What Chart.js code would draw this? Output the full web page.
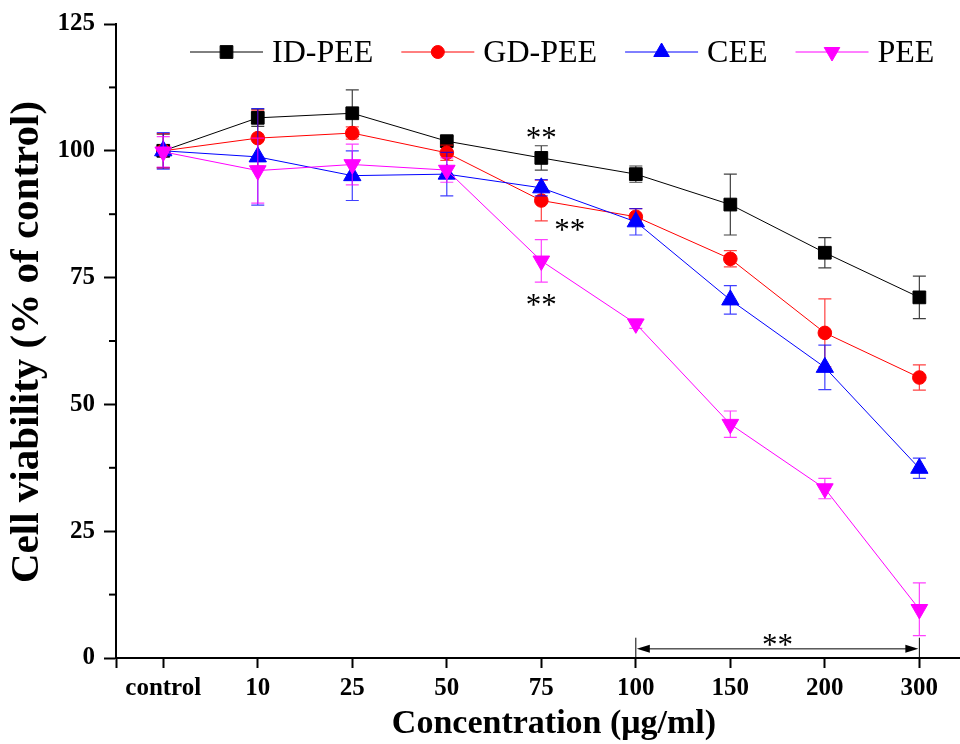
<!DOCTYPE html>
<html>
<head>
<meta charset="utf-8">
<title>Cell viability</title>
<script src="https://cdn.jsdelivr.net/npm/chart.js@4.4.1/dist/chart.umd.min.js"></script>
<style>
  html, body { margin: 0; padding: 0; background: #fff; overflow: hidden; width: 960px; height: 744px; }
  #wrap { width: 971px; height: 744px; position: relative; }
</style>
</head>
<body>
<div id="wrap"><canvas id="chart"></canvas></div>
<script>
const categories = ['control', '10', '25', '50', '75', '100', '150', '200', '300'];
const yTicks = [0, 25, 50, 75, 100, 125];

const idPee = [100, 106.5, 107.4, 101.9, 98.6, 95.4, 89.4, 79.9, 71.1];
const idPeeErr = [3.3, 1.7, 4.6, 0.9, 2.4, 1.6, 6.0, 3.0, 4.2];
const gdPee = [100, 102.5, 103.5, 99.6, 90.2, 87.0, 78.7, 64.1, 55.3];
const gdPeeErr = [3.4, 5.5, 1.2, 1.5, 4.0, 1.6, 1.6, 6.7, 2.5];
const cee = [100, 98.8, 95.1, 95.4, 92.7, 86.0, 70.6, 57.3, 37.4];
const ceeErr = [3.6, 9.5, 4.9, 4.3, 1.6, 2.6, 2.8, 4.4, 2.0];
const pee = [99.8, 96.1, 97.3, 96.2, 78.3, 65.9, 46.1, 33.4, 9.6];
const peeErr = [3.0, 6.4, 4.0, 2.4, 4.2, 0.9, 2.6, 2.0, 5.2];

// significance marks: [x index, y value]
const starMarks = [[4, 103.5], [4.3, 85.4], [4, 70.6], [6.5, 3.6]];
const bracketFrom = 5, bracketTo = 8, bracketY = 1.8, bracketTop = 4.0;

const xTitle = 'Concentration (μg/ml)';
const yTitle = 'Cell viability (% of control)';

const SERIF = "'Liberation Serif', 'Times New Roman', serif";

function points(values) {
    return values.map((v, i) => ({ x: i, y: v }));
}

function makeSet(label, values, errors, color, style, radius, rotation, order) {
    return {
        label: label,
        data: points(values),
        errors: errors,
        borderColor: color,
        backgroundColor: color,
        borderWidth: 1,
        pointStyle: style,
        pointRadius: radius,
        pointHoverRadius: radius,
        pointRotation: rotation,
        pointBorderWidth: 1,
        pointBackgroundColor: color,
        pointBorderColor: color,
        tension: 0,
        clip: false,
        order: order
    };
}

const datasets = [
    makeSet('ID-PEE', idPee, idPeeErr, '#000000', 'rect', 9, 0, 4),
    makeSet('GD-PEE', gdPee, gdPeeErr, '#ff0000', 'circle', 6.8, 0, 3),
    makeSet('CEE', cee, ceeErr, '#0000ff', 'triangle', 10, 0, 2),
    makeSet('PEE', pee, peeErr, '#ff00ff', 'triangle', 9.6, 180, 1)
];

// error bars drawn just before each dataset's own line and markers
const errorBars = {
    id: 'errorBars',
    beforeDatasetDraw(chart, args) {
        const ds = chart.data.datasets[args.index];
        const yScale = chart.scales.y;
        const ctx = chart.ctx;
        ctx.save();
        ctx.strokeStyle = ds.borderColor;
        ctx.globalAlpha = 0.75;
        ctx.lineWidth = 1.2;
        args.meta.data.forEach((pt, i) => {
            const v = ds.data[i].y, e = ds.errors[i];
            const top = yScale.getPixelForValue(v + e);
            const bot = yScale.getPixelForValue(v - e);
            ctx.beginPath();
            ctx.moveTo(pt.x, top); ctx.lineTo(pt.x, bot);
            ctx.moveTo(pt.x - 6.5, top); ctx.lineTo(pt.x + 6.5, top);
            ctx.moveTo(pt.x - 6.5, bot); ctx.lineTo(pt.x + 6.5, bot);
            ctx.stroke();
        });
        ctx.restore();
    }
};

const extras = {
    id: 'extras',
    afterDraw(chart) {
        const ctx = chart.ctx;
        const xs = chart.scales.x, ys = chart.scales.y;
        ctx.save();

        // minor y ticks
        ctx.strokeStyle = '#000';
        ctx.lineWidth = 2;
        for (let i = 0; i < yTicks.length - 1; i++) {
            const y = ys.getPixelForValue((yTicks[i] + yTicks[i + 1]) / 2);
            ctx.beginPath();
            ctx.moveTo(xs.left - 7, y); ctx.lineTo(xs.left, y);
            ctx.stroke();
        }

        // asterisks
        ctx.fillStyle = '#000';
        ctx.font = '31px ' + SERIF;
        ctx.textAlign = 'center';
        ctx.textBaseline = 'alphabetic';
        const m = ctx.measureText('**');
        const mid = (m.actualBoundingBoxAscent - m.actualBoundingBoxDescent) / 2;
        starMarks.forEach(([xv, yv]) => {
            ctx.fillText('**', xs.getPixelForValue(xv), ys.getPixelForValue(yv) + mid);
        });

        // bracket with arrows
        const x1 = xs.getPixelForValue(bracketFrom), x2 = xs.getPixelForValue(bracketTo);
        const by = ys.getPixelForValue(bracketY), bt = ys.getPixelForValue(bracketTop), b0 = ys.getPixelForValue(0);
        ctx.lineWidth = 1;
        ctx.beginPath();
        ctx.moveTo(x1, bt); ctx.lineTo(x1, b0);
        ctx.moveTo(x2, bt); ctx.lineTo(x2, b0);
        ctx.moveTo(x1 + 10, by); ctx.lineTo(x2 - 10, by);
        ctx.stroke();
        ctx.beginPath();
        ctx.moveTo(x1 + 1, by); ctx.lineTo(x1 + 14, by - 4); ctx.lineTo(x1 + 14, by + 4); ctx.closePath();
        ctx.moveTo(x2 - 1, by); ctx.lineTo(x2 - 14, by - 4); ctx.lineTo(x2 - 14, by + 4); ctx.closePath();
        ctx.fill();

        // axis titles
        ctx.font = 'bold 34px ' + SERIF;
        ctx.textAlign = 'center';
        ctx.textBaseline = 'middle';
        ctx.fillText(xTitle, 554, 724);
        ctx.save();
        ctx.translate(27, 342);
        ctx.rotate(-Math.PI / 2);
        ctx.font = 'bold 41px ' + SERIF;
        ctx.fillText(yTitle, 0, 0);
        ctx.restore();

        // legend
        ctx.font = '32px ' + SERIF;
        ctx.textAlign = 'left';
        ctx.textBaseline = 'middle';
        let lx = 190;
        const ly = 52;
        chart.data.datasets.forEach(ds => {
            ctx.strokeStyle = ds.borderColor;
            ctx.fillStyle = ds.borderColor;
            ctx.lineWidth = 1;
            ctx.beginPath();
            ctx.moveTo(lx, ly); ctx.lineTo(lx + 73, ly);
            ctx.stroke();
            Chart.helpers.drawPoint(ctx, {
                pointStyle: ds.pointStyle,
                rotation: ds.pointRotation,
                radius: ds.pointStyle === 'circle' ? 6.5 : 9,
                borderWidth: 1
            }, lx + 36.5, ly);
            ctx.fillStyle = '#000';
            ctx.fillText(ds.label, lx + 82, ly + 2);
            lx += 82 + ctx.measureText(ds.label).width + 28;
        });
        ctx.restore();
    }
};

new Chart(document.getElementById('chart'), {
    type: 'line',
    data: { datasets: datasets },
    plugins: [errorBars, extras],
    options: {
        responsive: true,
        maintainAspectRatio: false,
        animation: false,
        layout: { padding: { top: 24, right: 0, left: 0, bottom: 0 } },
        plugins: { legend: { display: false }, tooltip: { enabled: false } },
        scales: {
            x: {
                type: 'linear',
                position: 'bottom',
                min: -0.5,
                max: 8.43,
                afterBuildTicks(scale) {
                    scale.ticks = [{ value: -0.5 }].concat(categories.map((c, i) => ({ value: i })));
                },
                afterFit(scale) { scale.height = 86; },
                grid: { drawOnChartArea: false, drawTicks: true, tickLength: 10, tickColor: '#000', tickWidth: 2 },
                border: { display: true, color: '#000', width: 2 },
                ticks: {
                    color: '#000',
                    padding: 6,
                    autoSkip: false,
                    maxRotation: 0,
                    font: { family: SERIF, size: 25, weight: 'bold' },
                    callback: v => (categories[v] !== undefined ? categories[v] : '')
                }
            },
            y: {
                min: 0,
                max: 125,
                afterBuildTicks(scale) {
                    scale.ticks = yTicks.map(v => ({ value: v }));
                },
                afterFit(scale) { scale.width = 116; },
                grid: { drawOnChartArea: false, drawTicks: true, tickLength: 12, tickColor: '#000', tickWidth: 2 },
                border: { display: true, color: '#000', width: 2 },
                ticks: {
                    color: '#000',
                    padding: 9,
                    font: { family: SERIF, size: 25, weight: 'bold' }
                }
            }
        }
    }
});
</script>
</body>
</html>
